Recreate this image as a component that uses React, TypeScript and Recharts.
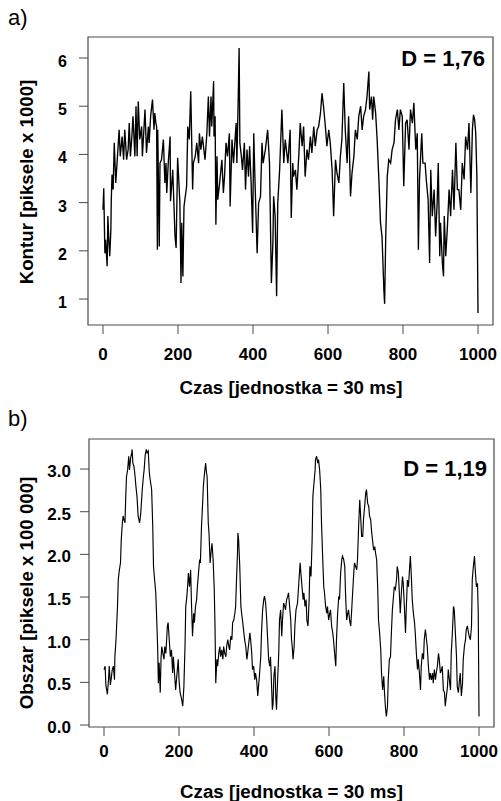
import React from "react";
import { LineChart, Line, XAxis, YAxis, ReferenceArea } from "recharts";

const FONT = '"Liberation Sans", Arial, Helvetica, sans-serif';

const timeTicks = [0, 200, 400, 600, 800, 1000];
const konturTicks = [1, 2, 3, 4, 5, 6];
const obszarTicks = [0, 0.5, 1, 1.5, 2, 2.5, 3];

const timeDomain: [number, number] = [-40, 1040];
const konturDomain: [number, number] = [0.461, 6.436];
const obszarDomain: [number, number] = [-0.023, 3.352];

const labelA = "a)";
const labelB = "b)";
const timeTitle = "Czas [jednostka = 30 ms]";
const konturTitle = "Kontur [piksele x 1000]";
const obszarTitle = "Obszar [piksele x 100 000]";
const konturD = "D = 1,76";
const obszarD = "D = 1,19";

// [time, value] – kontur (piksele x 1000)
const konturSeries: [number, number][] = [
  [0, 2.85], [2, 3.3], [5, 1.95], [7, 2.23], [11, 1.68], [13, 2.72], [16, 2.16], [18, 1.89], [21, 2.44], [22, 3.03],
  [24, 3.58], [27, 3.27], [30, 4.24], [34, 3.41], [38, 3.89], [43, 4.51], [46, 3.96], [51, 4.37], [55, 3.89], [58, 4.51],
  [63, 3.89], [67, 4.1], [70, 4.65], [73, 3.96], [77, 4.37], [80, 4.79], [85, 3.96], [88, 5.0], [91, 3.96], [94, 5.1],
  [98, 4.31], [103, 4.58], [105, 3.96], [112, 4.93], [116, 4.03], [121, 4.58], [123, 4.24], [127, 4.79], [132, 5.14], [136, 4.51],
  [138, 4.86], [141, 4.65], [143, 4.58], [145, 2.02], [146, 4.51], [150, 2.09], [152, 3.82], [156, 3.89], [161, 4.31], [165, 3.41],
  [168, 3.82], [170, 3.2], [174, 3.82], [179, 4.37], [180, 3.03], [186, 3.68], [192, 2.3], [195, 2.06], [199, 3.93], [202, 3.48],
  [205, 2.99], [208, 1.33], [210, 2.58], [213, 1.47], [216, 2.92], [223, 3.34], [226, 4.58], [230, 4.31], [234, 5.31], [239, 3.27],
  [241, 3.82], [246, 3.96], [250, 4.24], [255, 3.82], [257, 4.44], [261, 4.1], [265, 4.37], [272, 3.89], [277, 4.44], [281, 5.2],
  [284, 4.37], [288, 5.2], [290, 4.58], [295, 5.52], [296, 4.37], [299, 4.79], [301, 2.54], [304, 3.96], [306, 3.06], [311, 3.41],
  [317, 3.89], [321, 3.2], [324, 3.54], [328, 4.24], [332, 3.96], [337, 4.44], [339, 2.92], [344, 4.31], [348, 3.82], [355, 4.65],
  [357, 3.82], [360, 4.93], [363, 6.21], [365, 4.24], [369, 3.96], [372, 3.68], [377, 4.24], [380, 3.27], [384, 4.1], [388, 3.54],
  [391, 4.17], [395, 3.41], [399, 2.37], [402, 4.44], [405, 3.54], [411, 1.95], [415, 2.99], [420, 3.13], [424, 4.24], [427, 3.82],
  [433, 4.1], [439, 4.51], [444, 3.82], [449, 1.33], [453, 2.16], [455, 3.13], [459, 2.72], [463, 1.06], [466, 2.99], [471, 3.68],
  [477, 4.93], [482, 3.82], [486, 4.31], [493, 3.82], [499, 4.51], [502, 2.68], [506, 3.82], [508, 3.54], [513, 3.68], [517, 3.27],
  [522, 3.96], [526, 4.65], [531, 4.17], [535, 4.58], [539, 3.54], [544, 4.1], [548, 3.89], [553, 4.37], [557, 4.03], [562, 4.58],
  [566, 4.17], [571, 4.51], [575, 4.58], [580, 4.86], [584, 5.27], [588, 5.0], [593, 4.58], [597, 4.17], [602, 4.51], [606, 4.24],
  [611, 3.68], [615, 2.72], [620, 3.89], [624, 3.61], [629, 3.41], [633, 3.96], [637, 4.31], [642, 5.48], [646, 4.51], [651, 3.82],
  [655, 4.79], [660, 3.13], [664, 3.61], [669, 3.96], [673, 4.51], [678, 4.31], [682, 4.79], [687, 5.0], [691, 4.51], [695, 4.79],
  [700, 4.93], [704, 5.2], [709, 5.72], [711, 4.93], [716, 5.2], [719, 4.72], [722, 5.2], [727, 4.86], [731, 4.31], [736, 3.41],
  [740, 2.58], [744, 2.3], [749, 1.19], [751, 0.9], [754, 2.3], [758, 3.54], [762, 3.89], [767, 3.82], [771, 4.1], [776, 4.24],
  [780, 4.72], [785, 4.93], [789, 4.51], [793, 4.93], [798, 4.79], [802, 3.34], [807, 4.65], [811, 4.72], [816, 4.1], [820, 4.93],
  [825, 4.65], [829, 5.07], [834, 4.1], [838, 4.44], [841, 2.02], [844, 3.48], [847, 3.96], [850, 4.44], [853, 3.82], [859, 3.82],
  [862, 3.48], [867, 3.06], [871, 1.75], [874, 3.68], [878, 2.72], [883, 3.27], [887, 2.3], [891, 2.99], [894, 3.82], [898, 1.89],
  [900, 2.58], [905, 1.75], [908, 1.47], [910, 2.72], [914, 1.89], [918, 2.44], [923, 3.27], [927, 2.72], [932, 3.68], [936, 2.85],
  [941, 4.24], [945, 3.27], [949, 3.27], [954, 2.85], [958, 3.82], [963, 3.48], [967, 4.37], [972, 4.1], [976, 4.65], [981, 3.2],
  [985, 4.51], [988, 4.82], [991, 4.72], [994, 4.44], [997, 3.54], [1000, 0.71],
];

// [time, value] – obszar (piksele x 100 000)
const obszarSeries: [number, number][] = [
  [0, 0.65], [3, 0.69], [5, 0.47], [9, 0.36], [12, 0.53], [14, 0.69], [17, 0.47], [20, 0.57], [22, 0.65], [25, 0.69],
  [28, 0.53], [29, 0.8], [32, 1.0], [36, 1.39], [38, 1.7], [41, 1.82], [44, 1.9], [46, 2.17], [49, 2.37], [51, 2.45],
  [53, 2.41], [56, 2.37], [58, 2.68], [60, 2.91], [63, 2.99], [66, 3.15], [68, 2.99], [71, 3.13], [74, 3.19], [75, 3.23],
  [77, 3.07], [80, 3.03], [83, 2.91], [85, 2.8], [88, 2.68], [91, 2.45], [95, 2.37], [98, 2.48], [102, 2.76], [105, 2.91],
  [107, 2.99], [110, 3.17], [113, 3.23], [115, 3.19], [118, 3.21], [121, 2.95], [123, 2.88], [127, 2.76], [130, 2.33], [132, 1.86],
  [135, 1.7], [138, 1.55], [140, 1.31], [143, 0.92], [145, 0.49], [147, 0.73], [150, 0.38], [152, 0.77], [154, 0.92], [157, 0.84],
  [160, 0.77], [162, 0.92], [165, 0.84], [169, 1.16], [171, 1.2], [174, 1.0], [177, 0.8], [180, 0.88], [183, 0.61], [185, 0.8],
  [188, 0.61], [191, 0.41], [194, 0.57], [198, 0.77], [200, 0.53], [203, 0.38], [207, 0.3], [210, 0.22], [213, 0.45], [216, 0.92],
  [218, 1.39], [221, 1.51], [224, 1.7], [225, 1.78], [228, 1.62], [231, 1.82], [233, 1.47], [236, 1.04], [239, 1.31], [241, 1.2],
  [244, 1.39], [247, 1.47], [249, 1.62], [252, 1.78], [255, 1.94], [257, 1.9], [260, 2.33], [263, 2.6], [265, 2.8], [268, 2.95],
  [271, 3.07], [273, 2.97], [275, 2.91], [278, 2.37], [280, 2.25], [283, 1.9], [286, 2.05], [288, 2.13], [291, 1.94], [294, 1.59],
  [296, 1.16], [298, 0.49], [301, 0.77], [303, 0.69], [306, 0.84], [309, 0.92], [311, 0.8], [314, 0.88], [317, 0.77], [319, 0.92],
  [322, 0.84], [325, 0.8], [327, 0.92], [330, 1.0], [333, 0.92], [335, 0.88], [338, 1.04], [341, 1.0], [343, 1.2], [346, 1.23],
  [349, 1.31], [351, 1.39], [353, 1.66], [356, 2.02], [357, 2.25], [359, 2.17], [362, 1.86], [365, 1.39], [367, 1.31], [370, 1.2],
  [373, 1.08], [375, 1.0], [378, 0.92], [381, 0.77], [383, 0.84], [386, 0.96], [389, 1.08], [391, 1.0], [394, 0.84], [396, 0.65],
  [399, 0.69], [402, 0.53], [404, 0.61], [407, 0.53], [410, 0.34], [412, 0.45], [415, 0.61], [418, 0.8], [420, 1.08], [423, 1.35],
  [426, 1.47], [428, 1.51], [431, 1.43], [434, 1.23], [436, 1.04], [439, 0.77], [442, 0.69], [444, 0.8], [447, 0.45], [449, 0.18],
  [451, 0.26], [453, 0.57], [456, 0.69], [458, 0.34], [460, 0.18], [463, 0.53], [466, 0.84], [468, 1.23], [471, 1.35], [474, 1.04],
  [476, 1.23], [479, 1.43], [482, 1.39], [484, 1.35], [487, 1.47], [490, 1.51], [492, 1.55], [495, 1.39], [498, 1.23], [500, 1.0],
  [502, 0.92], [504, 0.77], [507, 0.92], [509, 1.16], [512, 1.35], [516, 1.43], [520, 1.7], [523, 1.9], [525, 1.78], [528, 1.62],
  [531, 1.47], [533, 1.55], [536, 1.39], [539, 1.47], [541, 1.23], [544, 1.16], [547, 1.47], [549, 1.86], [552, 1.74], [555, 2.17],
  [557, 2.68], [560, 2.84], [563, 2.99], [564, 3.11], [567, 3.15], [570, 3.07], [572, 3.11], [575, 2.99], [578, 2.76], [580, 2.37],
  [583, 1.98], [586, 1.62], [588, 1.55], [591, 1.39], [594, 1.31], [596, 1.39], [599, 1.23], [602, 1.31], [604, 1.35], [607, 1.16],
  [610, 1.08], [612, 1.0], [615, 0.84], [618, 0.69], [620, 1.0], [623, 1.31], [626, 1.51], [628, 1.47], [631, 1.78], [634, 1.94],
  [636, 1.98], [639, 1.94], [642, 1.86], [644, 1.55], [647, 1.23], [650, 1.31], [652, 1.35], [655, 1.23], [658, 1.16], [660, 1.31],
  [663, 1.55], [666, 1.78], [668, 1.9], [671, 1.86], [674, 1.82], [676, 1.94], [679, 2.33], [682, 2.64], [684, 2.48], [687, 2.21],
  [690, 2.21], [692, 2.41], [695, 2.56], [698, 2.72], [700, 2.76], [703, 2.6], [706, 2.56], [708, 2.45], [711, 2.41], [714, 2.25],
  [716, 2.17], [719, 2.05], [722, 2.09], [724, 2.02], [727, 1.94], [730, 1.59], [732, 1.23], [735, 1.08], [738, 0.88], [740, 0.61],
  [743, 0.41], [746, 0.57], [748, 0.38], [751, 0.18], [753, 0.1], [756, 0.22], [758, 0.53], [761, 0.77], [764, 0.8], [766, 1.04],
  [769, 1.35], [772, 1.51], [774, 1.62], [777, 1.59], [780, 1.7], [782, 1.86], [785, 1.78], [788, 1.51], [790, 1.31], [793, 1.55],
  [796, 1.74], [798, 1.66], [801, 1.39], [804, 1.08], [806, 1.35], [809, 1.7], [812, 1.62], [814, 1.78], [817, 1.98], [820, 1.7],
  [822, 1.47], [825, 1.31], [828, 1.2], [830, 1.08], [833, 0.84], [836, 0.65], [838, 0.77], [841, 0.61], [844, 0.41], [846, 0.69],
  [849, 0.84], [852, 0.77], [854, 1.0], [857, 1.12], [860, 1.0], [862, 0.92], [865, 0.69], [868, 0.53], [870, 0.61], [873, 0.53],
  [876, 0.61], [878, 0.49], [881, 0.65], [884, 0.53], [886, 0.61], [889, 0.69], [892, 0.84], [894, 0.77], [897, 0.61], [900, 0.65],
  [902, 0.69], [905, 0.41], [908, 0.38], [910, 0.22], [913, 0.34], [916, 0.45], [918, 0.65], [921, 0.53], [924, 0.41], [926, 0.84],
  [929, 1.08], [932, 1.39], [934, 1.35], [937, 1.08], [940, 0.8], [942, 0.45], [945, 0.38], [948, 0.53], [950, 0.61], [953, 0.34],
  [956, 0.49], [958, 0.77], [961, 0.92], [964, 1.0], [966, 1.12], [969, 1.16], [972, 1.08], [974, 1.04], [977, 1.0], [980, 1.16],
  [982, 1.7], [985, 1.86], [988, 1.98], [990, 1.82], [993, 1.62], [996, 1.66], [998, 1.31], [1000, 0.1],
];

const konturData = konturSeries.map(([t, v]) => ({ t, v }));
const obszarData = obszarSeries.map(([t, v]) => ({ t, v }));

const AXIS_GRAY = "#4a4a4a";

const makeXTick = (dy: number) => (props: any) => (
  <text
    x={props.x}
    y={props.y + dy}
    textAnchor="middle"
    fontFamily={FONT}
    fontSize={17}
    fontWeight="bold"
    fill="#000"
  >
    {props.payload.value}
  </text>
);

const makeYTick = (dx: number, dy: number, size: number, fmt: (v: number) => string) => (props: any) => (
  <text
    x={props.x + dx}
    y={props.y + dy}
    textAnchor="end"
    fontFamily={FONT}
    fontSize={size}
    fontWeight="bold"
    fill="#000"
  >
    {fmt(props.payload.value)}
  </text>
);

const XTickTop = makeXTick(26);
const XTickBottom = makeXTick(21);
const YTickTop = makeYTick(-12, 9, 16, (v) => String(v));
const YTickBottom = makeYTick(-9, 8, 17, (v) => v.toFixed(1));

export default function App() {
  return (
    <div style={{ position: "absolute", left: 0, top: 0, width: 501, height: 801, background: "#fff" }}>
      <div style={{ position: "absolute", left: 0, top: 0 }}>
        <LineChart width={501} height={400} data={konturData} margin={{ top: 37, right: 8, bottom: 35, left: 28 }}>
          <XAxis
            dataKey="t"
            type="number"
            domain={timeDomain}
            ticks={timeTicks}
            allowDataOverflow
            axisLine={false}
            tickLine={{ stroke: AXIS_GRAY, strokeWidth: 1 }}
            tickSize={9}
            tickMargin={0}
            height={40}
            tick={XTickTop}
            interval={0}
          />
          <YAxis
            dataKey="v"
            type="number"
            domain={konturDomain}
            ticks={konturTicks}
            allowDataOverflow
            axisLine={false}
            tickLine={{ stroke: AXIS_GRAY, strokeWidth: 1 }}
            tickSize={9}
            tickMargin={0}
            width={60}
            tick={YTickTop}
            interval={0}
          />
          <ReferenceArea
            x1={timeDomain[0]}
            x2={timeDomain[1]}
            y1={konturDomain[0]}
            y2={konturDomain[1]}
            fill="none"
            fillOpacity={0}
            stroke={AXIS_GRAY}
            strokeWidth={1.2}
            ifOverflow="visible"
          />
          <Line
            dataKey="v"
            type="linear"
            stroke="#000"
            strokeWidth={1.35}
            strokeLinejoin="miter"
            dot={false}
            activeDot={false}
            isAnimationActive={false}
          />
        </LineChart>
      </div>
      <div style={{ position: "absolute", left: 0, top: 400 }}>
        <LineChart width={501} height={401} data={obszarData} margin={{ top: 39, right: 7, bottom: 34, left: 29 }}>
          <XAxis
            dataKey="t"
            type="number"
            domain={timeDomain}
            ticks={timeTicks}
            allowDataOverflow
            axisLine={false}
            tickLine={{ stroke: AXIS_GRAY, strokeWidth: 1 }}
            tickSize={9}
            tickMargin={0}
            height={40}
            tick={XTickBottom}
            interval={0}
          />
          <YAxis
            dataKey="v"
            type="number"
            domain={obszarDomain}
            ticks={obszarTicks}
            allowDataOverflow
            axisLine={false}
            tickLine={{ stroke: AXIS_GRAY, strokeWidth: 1 }}
            tickSize={9}
            tickMargin={0}
            width={60}
            tick={YTickBottom}
            interval={0}
          />
          <ReferenceArea
            x1={timeDomain[0]}
            x2={timeDomain[1]}
            y1={obszarDomain[0]}
            y2={obszarDomain[1]}
            fill="none"
            fillOpacity={0}
            stroke={AXIS_GRAY}
            strokeWidth={1.2}
            ifOverflow="visible"
          />
          <Line
            dataKey="v"
            type="linear"
            stroke="#000"
            strokeWidth={1.15}
            dot={false}
            activeDot={false}
            isAnimationActive={false}
          />
        </LineChart>
      </div>
      <svg
        width={501}
        height={801}
        style={{ position: "absolute", left: 0, top: 0, pointerEvents: "none" }}
        fontFamily={FONT}
      >
        <text x={8} y={25} fontSize={22} fill="#000">{labelA}</text>
        <text x={8} y={426} fontSize={22} fill="#000">{labelB}</text>
        <text x={485} y={66} fontSize={22} fontWeight="bold" textAnchor="end" fill="#000">{konturD}</text>
        <text x={487} y={476} fontSize={22} fontWeight="bold" textAnchor="end" fill="#000">{obszarD}</text>
        <text x={291} y={394} fontSize={18.7} fontWeight="bold" textAnchor="middle" fill="#000">{timeTitle}</text>
        <text x={291.5} y={798} fontSize={18.7} fontWeight="bold" textAnchor="middle" fill="#000">{timeTitle}</text>
        <text
          x={33}
          y={182}
          fontSize={18.7}
          fontWeight="bold"
          textAnchor="middle"
          fill="#000"
          transform="rotate(-90 33 182)"
        >
          {konturTitle}
        </text>
        <text
          x={33}
          y={593}
          fontSize={18.7}
          fontWeight="bold"
          textAnchor="middle"
          fill="#000"
          transform="rotate(-90 33 593)"
        >
          {obszarTitle}
        </text>
      </svg>
    </div>
  );
}
